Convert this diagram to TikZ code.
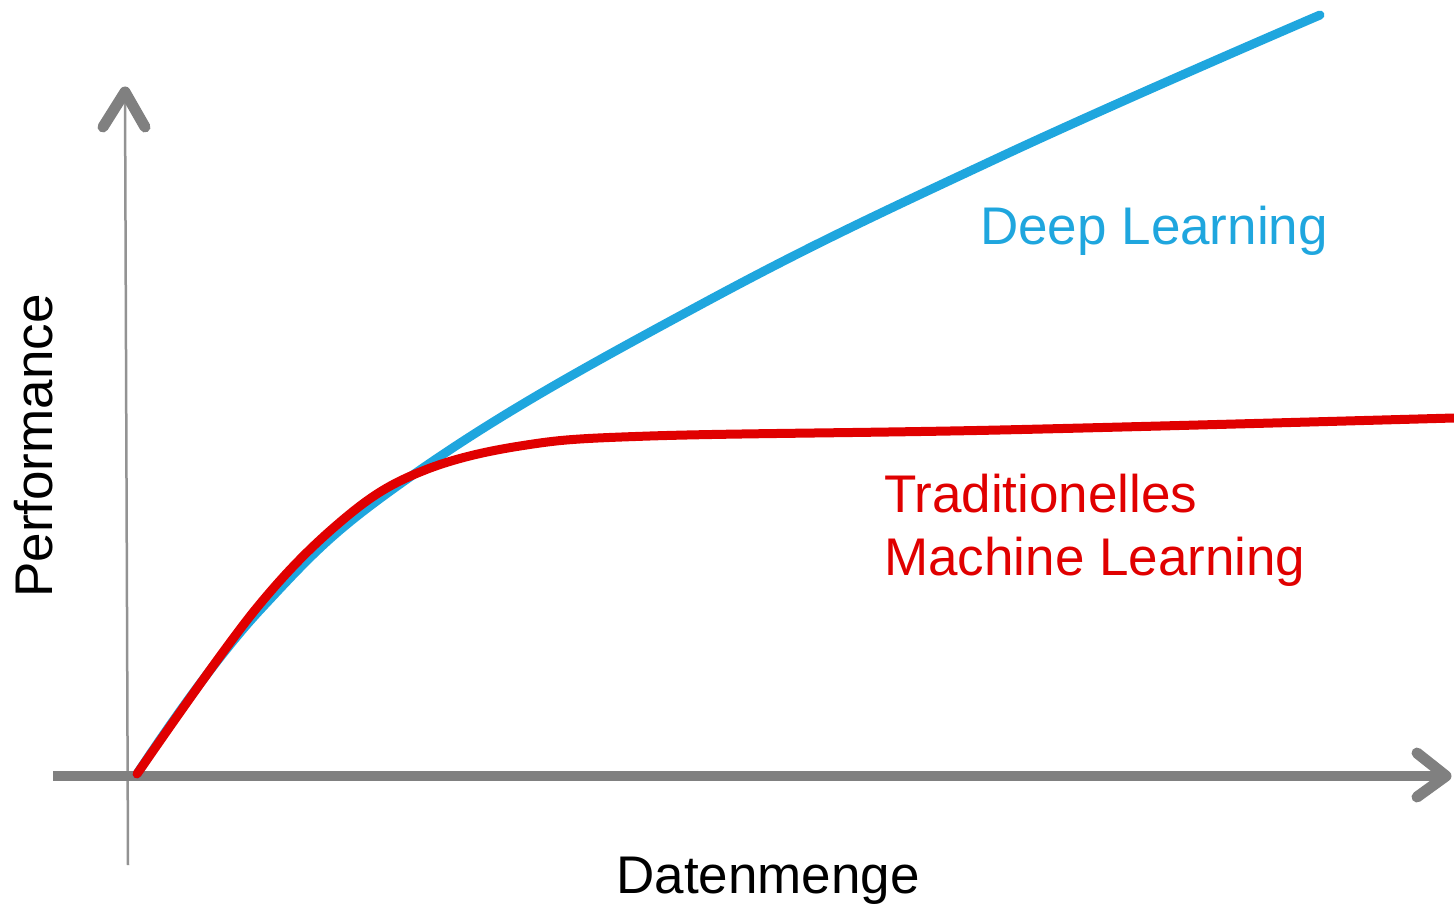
\documentclass[tikz,border=0pt]{standalone}
\usepackage{fontspec}
\setmainfont{Liberation Sans}
\definecolor{axisgray}{HTML}{808080}
\definecolor{dlblue}{HTML}{1FA6DE}
\definecolor{mlred}{HTML}{E00000}
\begin{document}
\begin{tikzpicture}[x=1pt,y=-1pt,
  thinaxis/.style={draw=axisgray!85, line width=2.5pt},
  thickaxis/.style={draw=axisgray, line width=10pt},
  chevron/.style={draw=axisgray, line width=11pt, line cap=round, line join=round},
  curve/.style={line width=9pt, line cap=round, line join=round},
  lbl/.style={font=\fontsize{53}{63}\selectfont, inner sep=0pt}]
\useasboundingbox (0,0) rectangle (1454,904);
% axes
\coordinate (ybot) at (128,865);
\coordinate (ytop) at (125,92);
\coordinate (xleft) at (53,776);
\coordinate (xright) at (1446,776);
\draw[thinaxis] (ybot) -- (ytop);
\draw[chevron] (103,127) -- (ytop) -- (145,127);
\draw[thickaxis] (xleft) -- (xright);
\draw[chevron] (1417,753) -- (xright) -- (1417,797);
% curves
\draw[curve, dlblue] plot[smooth, tension=0.7] coordinates {(137,774) (260,610) (420,470) (700,305) (1000,157) (1320,15)};
\draw[curve, mlred] plot[smooth, tension=0.6] coordinates {(137,774) (255,610) (345,518) (420,472) (520,446) (650,436) (1000,430) (1454,418)};
% labels
\node[lbl, text=dlblue, anchor=base west] (dl) at (980,245) {Deep Learning};
\node[lbl, text=mlred, anchor=base west, align=left] (ml) at (884,575) {Traditionelles\\Machine Learning};
\node[lbl, anchor=base, rotate=90] (perf) at (52,446) {Performance};
\node[lbl, anchor=base] (daten) at (768,893) {Datenmenge};
\end{tikzpicture}
\end{document}
